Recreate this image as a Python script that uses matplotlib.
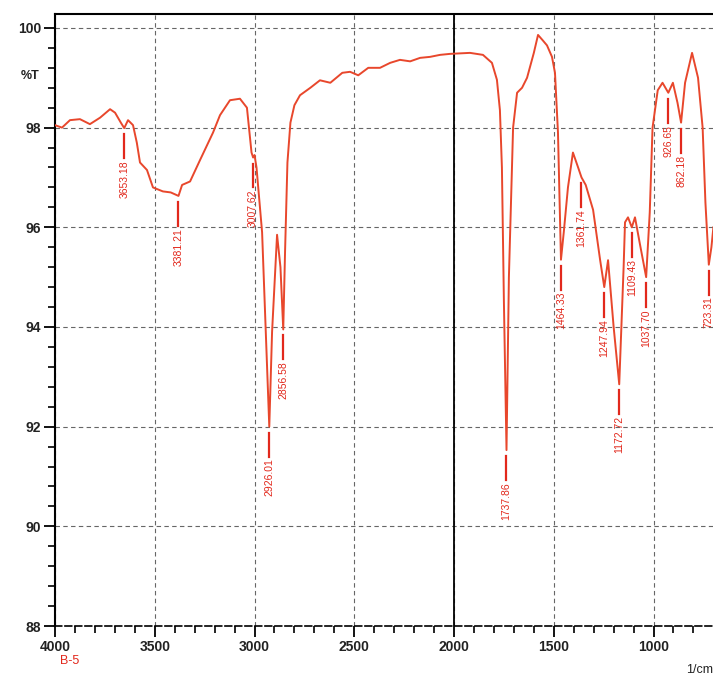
import matplotlib
matplotlib.use("Agg")
import matplotlib.pyplot as plt
from matplotlib.ticker import MultipleLocator

# spectrum: wavenumber (1/cm) and transmittance (%T)
wavenumber = [4000, 3965, 3925, 3875, 3825, 3774, 3724, 3699, 3670, 3653, 3634, 3609,
              3590, 3574, 3539, 3509, 3459, 3420, 3381, 3363, 3323, 3273, 3208, 3173,
              3123, 3073, 3038, 3015, 3007, 3000, 2990, 2962, 2926, 2912, 2887, 2870,
              2856, 2847, 2835, 2820, 2800, 2772, 2720, 2672, 2620, 2560, 2521, 2480,
              2430, 2371, 2320, 2271, 2220, 2170, 2120, 2070, 2020, 1920, 1855, 1810,
              1785, 1770, 1760, 1750, 1737, 1725, 1704, 1684, 1659, 1634, 1600, 1579,
              1555, 1534, 1509, 1494, 1479, 1464, 1450, 1429, 1404, 1378, 1361, 1340,
              1303, 1268, 1247, 1228, 1200, 1172, 1150, 1143, 1128, 1109, 1093, 1070,
              1037, 1019, 1005, 979, 955, 926, 903, 880, 862, 842, 807, 777, 754, 740,
              723, 710, 700]
transmittance = [98.05, 98.0, 98.15, 98.17, 98.07, 98.2, 98.37, 98.3, 98.1, 97.99, 98.15, 98.05,
                 97.7, 97.3, 97.15, 96.8, 96.72, 96.7, 96.63, 96.85, 96.92, 97.35, 97.9, 98.25,
                 98.55, 98.58, 98.4, 97.5, 97.4, 97.45, 97.2, 95.9, 92.0, 93.9, 95.85, 95.2,
                 93.95, 95.5, 97.3, 98.1, 98.45, 98.65, 98.8, 98.95, 98.9, 99.1, 99.12, 99.05,
                 99.2, 99.2, 99.3, 99.36, 99.33, 99.4, 99.42, 99.46, 99.48, 99.5, 99.46, 99.3,
                 98.96, 98.35, 97.2, 94.5, 91.53, 95.0, 98.0, 98.7, 98.8, 99.0, 99.5, 99.86,
                 99.75, 99.65, 99.42, 99.1, 97.9, 95.35, 95.9, 96.8, 97.5, 97.2, 97.0, 96.85,
                 96.35, 95.35, 94.8, 95.34, 94.0, 92.85, 95.2, 96.1, 96.2, 96.0, 96.2, 95.7,
                 95.0, 96.3, 98.0, 98.75, 98.9, 98.7, 98.9, 98.5, 98.1, 98.9, 99.5, 99.0, 98.0, 96.5,
                 95.25, 95.6, 96.0]

# labelled peaks
peak_wn = [3653.18, 3381.21, 3007.62, 2926.01, 2856.58, 1737.86, 1464.33, 1361.74,
           1247.94, 1172.72, 1109.43, 1037.70, 926.65, 862.18, 723.31]
peak_t = [97.99, 96.63, 97.4, 92.0, 93.95, 91.53, 95.35, 97.0,
          94.8, 92.85, 96.0, 95.0, 98.7, 98.1, 95.25]

curve_color = '#e8472c'
label_color = '#e2281c'

plt.rcParams['font.family'] = ['Liberation Sans', 'DejaVu Sans']

fig = plt.figure(figsize=(7.13, 6.76), dpi=100)
ax = fig.add_axes([55 / 713, 50 / 676, 658 / 713, 612 / 676])

ax.plot(wavenumber, transmittance, color=curve_color, lw=1.4, zorder=3)

for w, t in zip(peak_wn, peak_t):
    ax.plot([w, w], [t - 0.12, t - 0.6], color=label_color, lw=1.6, zorder=3)
    ax.text(w, t - 0.64, f'{w:.2f}', rotation=90, ha='center', va='top',
            fontsize=7.5, color=label_color, zorder=4)

ax.set_xlim(4000, 702)
ax.set_ylim(88, 100.28)

ax.xaxis.set_major_locator(MultipleLocator(500))
ax.xaxis.set_minor_locator(MultipleLocator(100))
ax.yaxis.set_major_locator(MultipleLocator(2))
ax.yaxis.set_minor_locator(MultipleLocator(0.4))

ax.grid(True, which='major', color='#666666', ls=(0, (4, 3)), lw=0.8)
ax.axvline(2000, color='black', lw=1.3, zorder=2)

ax.tick_params(axis='both', which='major', direction='out', length=8, width=1.3,
               labelsize=10, pad=2)
ax.tick_params(axis='both', which='minor', direction='out', length=5, width=1.2)
for lbl in ax.get_xticklabels() + ax.get_yticklabels():
    lbl.set_fontweight('bold')
    lbl.set_color('#222222')

ax.spines['right'].set_visible(False)
ax.spines['top'].set_linewidth(1.5)
ax.spines['left'].set_linewidth(1.5)
ax.spines['bottom'].set_linestyle((0, (4, 2)))
ax.spines['bottom'].set_linewidth(1.2)

fig.text(30 / 713, 1 - 76 / 676, '%T', fontsize=9, fontweight='bold', color='#222222',
         ha='center', va='center')
fig.text(70 / 713, 1 - 661 / 676, 'B-5', fontsize=9, color=label_color, ha='center', va='center')
fig.text(700 / 713, 1 - 670 / 676, '1/cm', fontsize=9, color='#222222', ha='center', va='center')

fig.savefig('out.png', dpi=100, facecolor='white')
